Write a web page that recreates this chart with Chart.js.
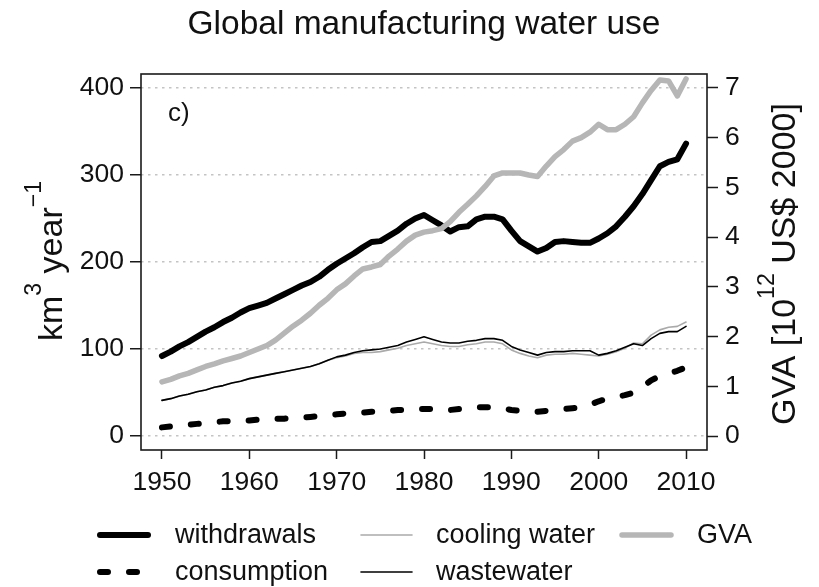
<!DOCTYPE html>
<html>
<head>
<meta charset="utf-8">
<title>Global manufacturing water use</title>
<script src="https://cdn.jsdelivr.net/npm/chart.js@4"></script>
<style>
  html, body { margin: 0; padding: 0; background: #ffffff; }
  canvas { display: block; }
</style>
</head>
<body>
<canvas id="chart" width="819" height="587"></canvas>
<script>
// Annual series, 1950-2010
const years = [1950,1951,1952,1953,1954,1955,1956,1957,1958,1959,
               1960,1961,1962,1963,1964,1965,1966,1967,1968,1969,
               1970,1971,1972,1973,1974,1975,1976,1977,1978,1979,
               1980,1981,1982,1983,1984,1985,1986,1987,1988,1989,
               1990,1991,1992,1993,1994,1995,1996,1997,1998,1999,
               2000,2001,2002,2003,2004,2005,2006,2007,2008,2009,
               2010];

// km3 per year
const withdrawals = [92,97,103,108,114,120,125,131,136,142,
                     147,150,153,158,163,168,173,177,183,191,
                     198,204,210,217,223,224,230,236,244,250,
                     254,248,242,235,240,241,249,252,252,249,
                     236,224,218,212,216,223,224,223,222,222,
                     227,233,241,252,264,278,294,310,315,318,
                     336];

const consumption = [10,11,12,13,14,15,16,17,17,18,
                     18,19,19,20,20,21,21,22,23,24,
                     25,26,26,27,28,28,29,30,30,31,
                     31,31,30,30,31,32,33,33,33,32,
                     30,29,28,28,29,30,31,32,33,36,
                     40,43,45,47,50,56,64,69,72,75,
                     79];

const coolingWater = [41,43,46,48,51,53,56,58,61,63,
                      66,68,70,72,74,76,78,80,83,87,
                      90,92,95,96,96,97,99,101,104,106,
                      108,106,104,103,103,105,106,108,108,106,
                      99,95,92,90,93,94,94,95,94,93,
                      92,94,97,101,107,106,116,122,125,126,
                      131];

const wastewater = [41,43,46,48,51,53,56,58,61,63,
                    66,68,70,72,74,76,78,80,83,87,
                    91,93,96,98,99,100,102,104,108,111,
                    114,111,108,107,107,109,110,112,112,110,
                    103,99,96,93,96,97,97,98,98,98,
                    93,95,98,102,106,104,112,118,120,120,
                    126];

// Gross value added, 10^12 US$ (2000)
const gva = [1.09,1.14,1.21,1.26,1.33,1.40,1.45,1.51,1.56,1.61,
             1.68,1.75,1.82,1.93,2.07,2.21,2.33,2.47,2.63,2.77,
             2.94,3.06,3.22,3.36,3.40,3.45,3.62,3.76,3.92,4.04,
             4.10,4.13,4.17,4.31,4.50,4.66,4.83,5.02,5.23,5.29,
             5.29,5.29,5.25,5.22,5.43,5.62,5.76,5.93,6.00,6.11,
             6.27,6.16,6.16,6.27,6.42,6.70,6.95,7.16,7.14,6.84,
             7.18];

// Tick labels
const yearTicks = [1950,1960,1970,1980,1990,2000,2010];
const waterTicks = [0,100,200,300,400];
const gvaTicks = [0,1,2,3,4,5,6,7];

const FONT = "'Liberation Sans', Arial, Helvetica, sans-serif";
const INK = '#111111';
const AXIS = '#1a1a1a';

function series(values) {
  return years.map((yr, i) => ({ x: yr, y: values[i] }));
}

// Datasets listed top-most first (Chart.js paints index 0 last)
const datasets = [
  { label: 'GVA', data: series(gva), yAxisID: 'y1',
    borderColor: '#b6b6b6', borderWidth: 5.5 },
  { label: 'wastewater', data: series(wastewater), yAxisID: 'y',
    borderColor: '#000000', borderWidth: 1.6 },
  { label: 'cooling water', data: series(coolingWater), yAxisID: 'y',
    borderColor: '#aaaaaa', borderWidth: 1.6 },
  { label: 'withdrawals', data: series(withdrawals), yAxisID: 'y',
    borderColor: '#000000', borderWidth: 6 },
  { label: 'consumption', data: series(consumption), yAxisID: 'y',
    borderColor: '#000000', borderWidth: 6, borderDash: [8, 21] }
];

// Legend cells: dataset label, column, row
const legendLayout = [
  { label: 'withdrawals', col: 0, row: 0 },
  { label: 'consumption', col: 0, row: 1 },
  { label: 'cooling water', col: 1, row: 0 },
  { label: 'wastewater', col: 1, row: 1 },
  { label: 'GVA', col: 2, row: 0 }
];

function drawVerticalLabel(ctx, baseX, centerY, parts, size) {
  const supSize = size * 0.68;
  let total = 0;
  parts.forEach(p => {
    ctx.font = `${p.sup ? supSize : size}px ${FONT}`;
    p.w = ctx.measureText(p.text).width;
    total += p.w;
  });
  ctx.save();
  ctx.translate(baseX, centerY);
  ctx.rotate(-Math.PI / 2);
  ctx.fillStyle = INK;
  ctx.textAlign = 'left';
  ctx.textBaseline = 'alphabetic';
  let cursor = -total / 2;
  parts.forEach(p => {
    ctx.font = `${p.sup ? supSize : size}px ${FONT}`;
    ctx.fillText(p.text, cursor, p.sup ? -size * 0.62 : 0);
    cursor += p.w;
  });
  ctx.restore();
}

const figureDecor = {
  id: 'figureDecor',
  beforeDatasetsDraw(chart) {
    const { ctx, chartArea: a } = chart;
    ctx.save();
    ctx.strokeStyle = AXIS;
    ctx.lineWidth = 1.6;
    ctx.setLineDash([]);
    ctx.strokeRect(a.left, a.top, a.right - a.left, a.bottom - a.top);
    ctx.restore();
  },
  afterDraw(chart) {
    const { ctx, chartArea: a } = chart;
    ctx.save();
    ctx.fillStyle = INK;

    // Title
    ctx.font = `33.5px ${FONT}`;
    ctx.textAlign = 'center';
    ctx.textBaseline = 'alphabetic';
    ctx.fillText('Global manufacturing water use', (a.left + a.right) / 2, 34);

    // Panel tag
    ctx.font = `26px ${FONT}`;
    ctx.textAlign = 'left';
    ctx.fillText('c)', a.left + 27, 121);

    // Axis titles
    drawVerticalLabel(ctx, 62, 261, [
      { text: 'km' }, { text: '3', sup: true },
      { text: ' year' }, { text: '\u22121', sup: true }
    ], 34);
    drawVerticalLabel(ctx, 795, 264, [
      { text: 'GVA [10' }, { text: '12', sup: true },
      { text: ' US$ 2000]' }
    ], 34);

    // Legend
    const colX = [{ x0: 100, x1: 148, tx: 175 },
                  { x0: 361, x1: 412, tx: 436 },
                  { x0: 622, x1: 671, tx: 697 }];
    const rowY = [535, 572];
    ctx.font = `27px ${FONT}`;
    ctx.textBaseline = 'middle';
    legendLayout.forEach(item => {
      const ds = chart.data.datasets.find(d => d.label === item.label);
      const c = colX[item.col];
      const y = rowY[item.row];
      ctx.save();
      ctx.strokeStyle = ds.borderColor;
      ctx.lineWidth = ds.borderWidth;
      ctx.lineCap = 'round';
      ctx.setLineDash(ds.borderDash || []);
      ctx.beginPath();
      ctx.moveTo(c.x0, y);
      ctx.lineTo(c.x1, y);
      ctx.stroke();
      ctx.restore();
      ctx.fillStyle = INK;
      ctx.fillText(item.label, c.tx, y + 1);
    });
    ctx.restore();
  }
};

const tickFont = { family: FONT, size: 26.5 };

new Chart(document.getElementById('chart'), {
  type: 'line',
  data: { datasets },
  options: {
    responsive: false,
    animation: false,
    devicePixelRatio: 1,
    layout: { padding: { top: 74, left: 0, right: 0, bottom: 0 } },
    plugins: {
      legend: { display: false },
      tooltip: { enabled: false },
      title: { display: false }
    },
    elements: {
      point: { radius: 0, hoverRadius: 0 },
      line: { tension: 0, borderCapStyle: 'round', borderJoinStyle: 'round', fill: false }
    },
    scales: {
      x: {
        type: 'linear',
        position: 'bottom',
        min: 1947.6,
        max: 2012.4,
        afterBuildTicks: s => { s.ticks = yearTicks.map(v => ({ value: v })); },
        afterFit: s => { s.height = 137; },
        grid: { drawOnChartArea: false, drawTicks: true, tickLength: 9,
                tickColor: AXIS, tickWidth: 1.5, color: AXIS },
        border: { display: false },
        ticks: { autoSkip: false, maxRotation: 0, padding: 8, color: INK,
                 font: tickFont, callback: v => String(v) }
      },
      y: {
        type: 'linear',
        position: 'left',
        min: -16,
        max: 416,
        afterBuildTicks: s => { s.ticks = waterTicks.map(v => ({ value: v })); },
        afterFit: s => { s.width = 141; },
        grid: { color: '#c4c4c4', lineWidth: 1.5, tickLength: 11,
                tickColor: AXIS, tickWidth: 1.5, tickBorderDash: [] },
        border: { display: false, dash: [2.5, 4.5] },
        ticks: { padding: 6, color: INK, font: tickFont, callback: v => String(v) }
      },
      y1: {
        type: 'linear',
        position: 'right',
        min: -0.28,
        max: 7.28,
        afterBuildTicks: s => { s.ticks = gvaTicks.map(v => ({ value: v })); },
        afterFit: s => { s.width = 112; },
        grid: { drawOnChartArea: false, tickLength: 11, tickColor: AXIS,
                tickWidth: 1.5, color: AXIS },
        border: { display: false },
        ticks: { padding: 7, color: INK, font: tickFont, callback: v => String(v) }
      }
    }
  },
  plugins: [figureDecor]
});
</script>
</body>
</html>
